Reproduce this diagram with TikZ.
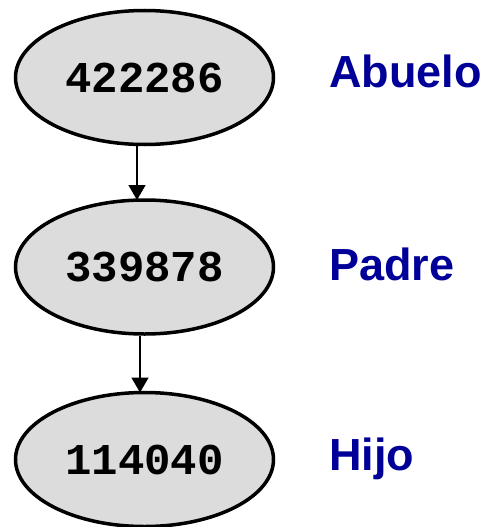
\documentclass[tikz,border=0pt]{standalone}
\usepackage{fontspec}
\setmainfont{Liberation Sans}
\newfontfamily\codefont{Liberation Mono}
\usetikzlibrary{shapes.geometric,arrows.meta}
\definecolor{labelblue}{RGB}{0,0,153}
\definecolor{nodegray}{RGB}{220,220,220}
\begin{document}
\begin{tikzpicture}[x=1pt,y=-1pt,
  gen/.style={ellipse,draw=black,line width=3.5pt,fill=nodegray,minimum width=258pt,minimum height=134pt,inner sep=0pt,
    font=\codefont\bfseries\fontsize{44}{44}\selectfont},
  role/.style={anchor=base west,inner sep=0pt,text=labelblue,font=\bfseries\fontsize{45}{45}\selectfont},
  link/.style={line width=1.5pt,-{Triangle[length=15pt,width=17pt]}}]
\useasboundingbox (0,0) rectangle (488,527);
\node[gen] (e1) at (144.5,77.5) {422286};
\node[gen] (e2) at (144.5,267) {339878};
\node[gen] (e3) at (144.5,459.5) {114040};
\node[role] (l1) at (329,87) {Abuelo};
\node[role] (l2) at (329,280) {Padre};
\node[role] (l3) at (329,470) {Hijo};
\draw[link] ([xshift=-7.5pt]e1.south) -- ([xshift=-7.5pt,yshift=-1.75pt]e2.north);
\draw[link] ([xshift=-4.5pt]e2.south) -- ([xshift=-4.5pt,yshift=-1.75pt]e3.north);
\end{tikzpicture}
\end{document}
